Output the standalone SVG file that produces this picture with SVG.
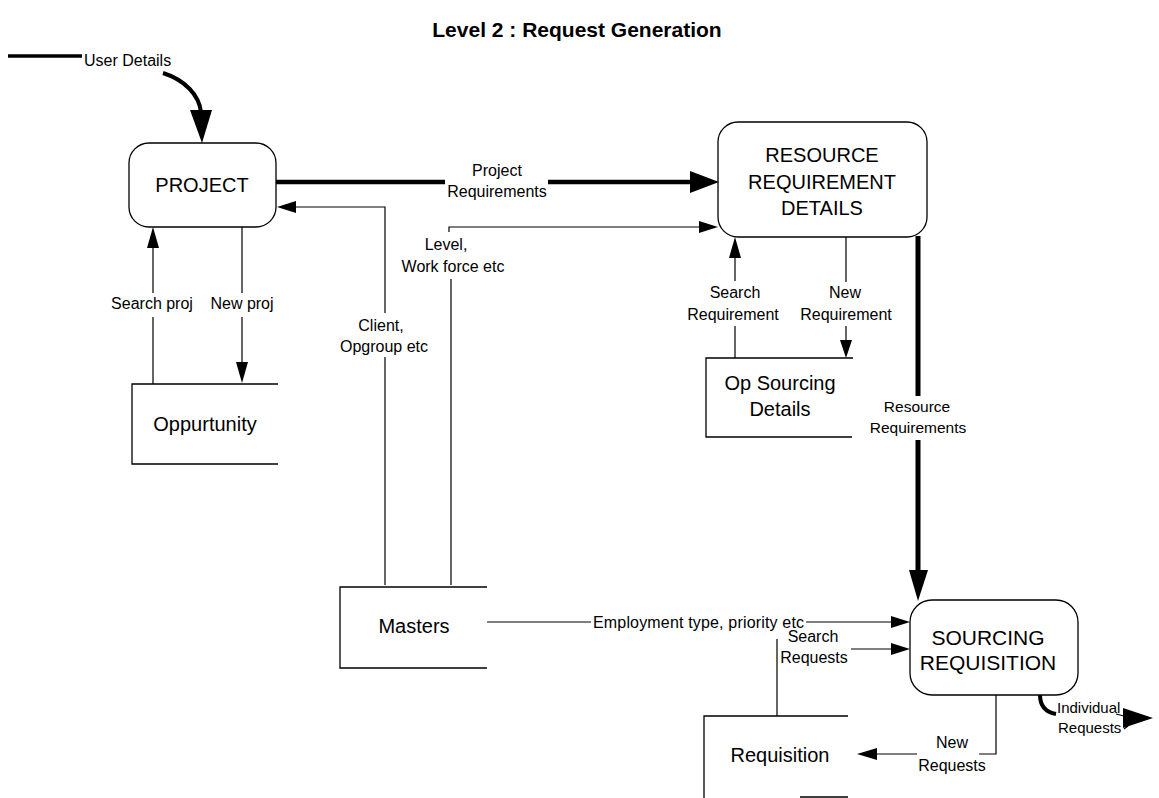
<svg xmlns="http://www.w3.org/2000/svg" width="1159" height="798" viewBox="0 0 1159 798">
  <style>
    .proc { fill: #fff; stroke: #000; stroke-width: 1.3; }
    .store { fill: none; stroke: #000; stroke-width: 1.3; }
    .flow { fill: none; stroke: #000; stroke-width: 1.2; }
    .heavy { fill: none; stroke: #000; stroke-width: 4.5; }
    .head { fill: #000; stroke: none; }
    text { font-family: "Liberation Sans", Arial, sans-serif; fill: #000; }
    .big { font-size: 20px; text-anchor: middle; }
    .lbl { font-size: 16px; text-anchor: middle; }
    .title { font-size: 21px; font-weight: bold; text-anchor: middle; }
  </style>

  <text class="title" x="577" y="37">Level 2 : Request Generation</text>

  <!-- processes -->
  <g id="project">
    <rect class="proc" x="129" y="143" width="147" height="84" rx="20"/>
    <text class="big" x="202" y="192">PROJECT</text>
  </g>
  <g id="resource-requirement-details">
    <rect class="proc" x="718" y="122" width="209" height="115" rx="20"/>
    <text class="big" x="822" y="162">RESOURCE</text>
    <text class="big" x="822" y="189">REQUIREMENT</text>
    <text class="big" x="822" y="215">DETAILS</text>
  </g>
  <g id="sourcing-requisition">
    <rect class="proc" x="910" y="600" width="168" height="95" rx="22"/>
    <text class="big" x="988" y="645" style="font-size:21px">SOURCING</text>
    <text class="big" x="988" y="670" style="font-size:21px">REQUISITION</text>
  </g>

  <!-- data stores -->
  <g id="oppurtunity">
    <path class="store" d="M278 384 H132 V464 H278"/>
    <text class="big" x="205" y="431">Oppurtunity</text>
  </g>
  <g id="op-sourcing-details">
    <path class="store" d="M853 358 H706 V437 H852"/>
    <text class="big" x="780" y="390">Op Sourcing</text>
    <text class="big" x="780" y="416">Details</text>
  </g>
  <g id="masters">
    <path class="store" d="M487 587 H340 V668 H487"/>
    <text class="big" x="414" y="633">Masters</text>
  </g>
  <g id="requisition">
    <path class="store" d="M848 716 H704 V798"/>
    <path class="store" d="M800 797 H848"/>
    <text class="big" x="780" y="762">Requisition</text>
  </g>

  <!-- data flows -->
  <g id="connectors">
    <!-- User Details -->
    <path d="M8 56 H82" fill="none" stroke="#000" stroke-width="3.5"/>
    <path d="M163 73 C185 80 199 95 201 112" fill="none" stroke="#000" stroke-width="4"/>
    <polygon class="head" points="190,110 212,110 202,143"/>
    <text x="84" y="66" style="font-size:16px">User Details</text>

    <!-- Project Requirements -->
    <path class="heavy" d="M276 182 H445 M548 182 H692"/>
    <polygon class="head" points="690,171 690,193 719,182"/>
    <text class="lbl" x="497" y="176">Project</text>
    <text class="lbl" x="497" y="197">Requirements</text>

    <!-- Client, Opgroup etc -->
    <path class="flow" d="M385 585 V357 M385 313 V207 H295"/>
    <polygon class="head" points="296,201 296,213 277,207"/>
    <text class="lbl" x="381" y="331">Client,</text>
    <text class="lbl" x="384" y="352">Opgroup etc</text>

    <!-- Level, Work force etc -->
    <path class="flow" d="M451 585 V279 M449 232 V227 H700"/>
    <polygon class="head" points="699,221 699,233 718,227"/>
    <text class="lbl" x="446" y="250">Level,</text>
    <text class="lbl" x="453" y="272">Work force etc</text>

    <!-- Search proj / New proj -->
    <path class="flow" d="M153 384 V317 M153 293 V247"/>
    <polygon class="head" points="147,248 159,248 153,227"/>
    <text class="lbl" x="152" y="309">Search proj</text>
    <path class="flow" d="M242 227 V293 M242 317 V363"/>
    <polygon class="head" points="236,362 248,362 242,383"/>
    <text class="lbl" x="242" y="309">New proj</text>

    <!-- Search Requirement / New Requirement -->
    <path class="flow" d="M735 358 V326 M735 281 V257"/>
    <polygon class="head" points="729,258 741,258 735,237"/>
    <text class="lbl" x="735" y="298">Search</text>
    <text class="lbl" x="733" y="320">Requirement</text>
    <path class="flow" d="M846 237 V282 M846 326 V341"/>
    <polygon class="head" points="840,340 852,340 846,358"/>
    <text class="lbl" x="845" y="298">New</text>
    <text class="lbl" x="846" y="320">Requirement</text>

    <!-- Resource Requirements -->
    <path d="M918 236 V396 M918 440 V572" fill="none" stroke="#000" stroke-width="5"/>
    <polygon class="head" points="909,570 928,570 918,601"/>
    <text class="lbl" x="917" y="412" style="font-size:15.5px">Resource</text>
    <text class="lbl" x="918" y="433" style="font-size:15.5px">Requirements</text>

    <!-- Employment type, priority etc -->
    <path class="flow" d="M487 622 H591 M806 622 H892"/>
    <polygon class="head" points="891,616 891,628 910,622"/>
    <text x="593" y="628" style="font-size:16px" textLength="211">Employment type, priority etc</text>

    <!-- Search Requests -->
    <path class="flow" d="M777 716 V639 M851 649 H892"/>
    <polygon class="head" points="891,643 891,655 910,649"/>
    <text class="lbl" x="813" y="642">Search</text>
    <text class="lbl" x="814" y="663">Requests</text>

    <!-- New Requests -->
    <path class="flow" d="M996 695 V754 H979 M917 754 H876"/>
    <polygon class="head" points="877,748 877,760 857,754"/>
    <text class="lbl" x="952" y="748">New</text>
    <text class="lbl" x="952" y="771">Requests</text>

    <!-- Individual Requests -->
    <path d="M1040 695 C1040 705 1045 712 1056 714" fill="none" stroke="#000" stroke-width="4"/>
    <path class="flow" d="M1116 714 L1124 716 M1124 729 L1128 726"/>
    <polygon class="head" points="1123,708 1123,728 1153,718"/>
    <text x="1057" y="713" style="font-size:15px">Individual</text>
    <text x="1058" y="733" style="font-size:15px">Requests</text>
  </g>
</svg>
